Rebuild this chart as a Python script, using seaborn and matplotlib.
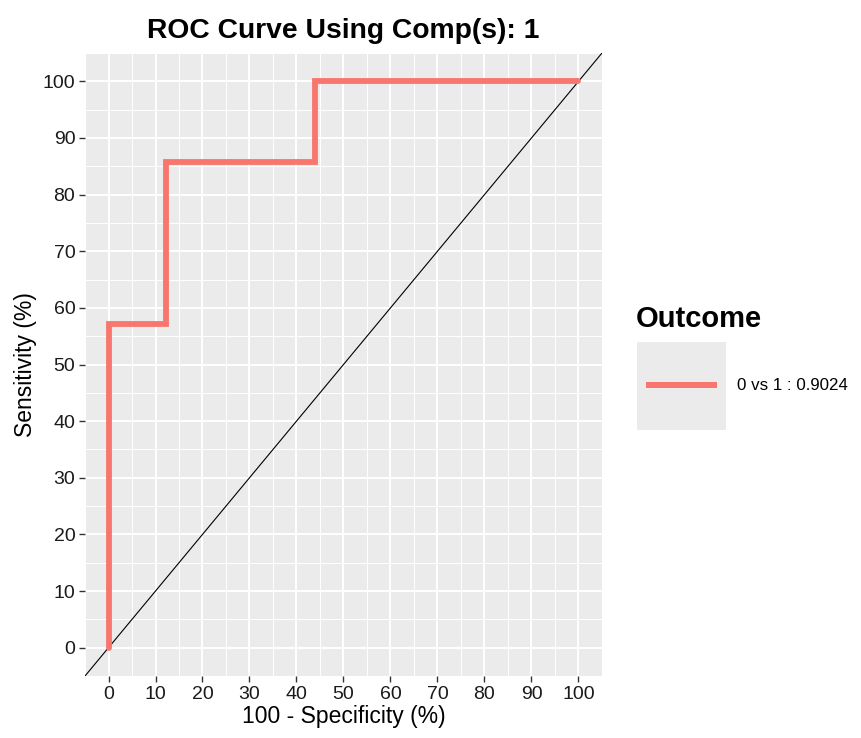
import numpy as np
import pandas as pd
import matplotlib
matplotlib.use("Agg")
import matplotlib.pyplot as plt
from matplotlib.patches import Rectangle
from matplotlib.ticker import MultipleLocator
import seaborn as sns

# ROC curve vertices (100 - specificity, sensitivity), in %
fpr = [0, 0, 12.2, 12.2, 43.9, 43.9, 100]
tpr = [0, 57.1, 57.1, 85.7, 85.7, 100, 100]
outcome_label = "0 vs 1 : 0.9024"
ticks = list(range(0, 101, 10))

df = pd.DataFrame({"fpr": fpr, "tpr": tpr, "Outcome": outcome_label})

sns.set_theme(style="darkgrid", rc={
    "axes.facecolor": "#EBEBEB",
    "grid.color": "white",
    "axes.edgecolor": "#EBEBEB",
    "text.color": "black",
    "axes.labelcolor": "black",
})
plt.rcParams["font.family"] = ["Liberation Sans", "DejaVu Sans"]

fig = plt.figure(figsize=(8.61, 7.38), dpi=100)
W, H = 861, 738
ax = fig.add_axes([85 / W, 1 - 676 / H, (602 - 85) / W, (676 - 53) / H])

ax.axline((0, 0), slope=1, color="black", lw=0.8, zorder=2)
sns.lineplot(data=df, x="fpr", y="tpr", hue="Outcome", palette=["#F8766D"],
             sort=False, estimator=None, lw=4.2, ax=ax, zorder=3,
             solid_joinstyle="miter")

ax.set_xlim(-5, 105)
ax.set_ylim(-5, 105)
ax.set_xticks(ticks)
ax.set_yticks(ticks)
ax.xaxis.set_minor_locator(MultipleLocator(5))
ax.yaxis.set_minor_locator(MultipleLocator(5))
ax.grid(which="major", color="white", lw=1.4)
ax.grid(which="minor", color="white", lw=0.7)
ax.set_axisbelow(True)
for s in ax.spines.values():
    s.set_visible(False)
ax.tick_params(which="major", length=4, width=1, color="#333333",
               labelsize=14, labelcolor="#1a1a1a", pad=3, bottom=True, left=True)
ax.tick_params(which="minor", length=0)

ax.set_xlabel("100 - Specificity (%)", fontsize=16.5, labelpad=2)
ax.set_ylabel("Sensitivity (%)", fontsize=16.5, labelpad=4)
ax.set_title("ROC Curve Using Comp(s): 1", fontsize=20.3, fontweight="bold", pad=11)

# legend in ggplot style: grey key box, title above
leg = ax.legend(loc="center left", bbox_to_anchor=(646 / W, 1 - 386 / H),
                bbox_transform=fig.transFigure, frameon=False, borderpad=0,
                borderaxespad=0, handlelength=71 / 17, handletextpad=20 / 17,
                fontsize=12.2)
for line in leg.get_lines():
    line.set_linewidth(4.3)
    line.set_solid_capstyle("butt")
fig.add_artist(Rectangle((637 / W, 1 - 430 / H), 89 / W, 88 / H,
                         transform=fig.transFigure, facecolor="#EBEBEB",
                         edgecolor="none", zorder=-1))
fig.text(636 / W, 1 - 319 / H, "Outcome", fontsize=21, fontweight="bold",
         va="center", ha="left")

fig.savefig("out.png", dpi=100)
